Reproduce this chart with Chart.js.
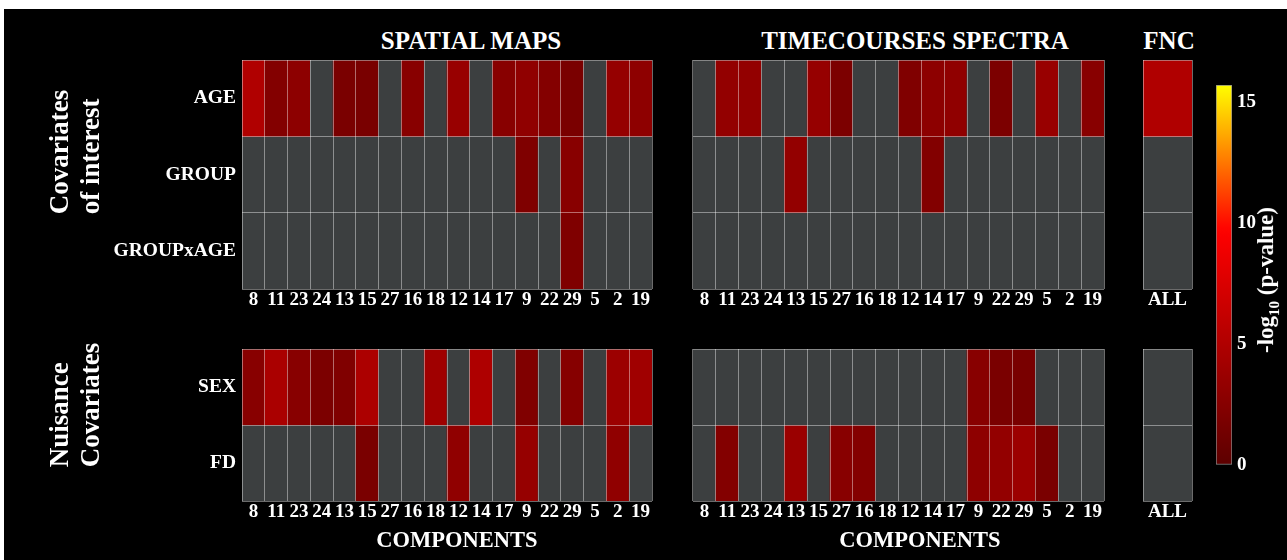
<!DOCTYPE html>
<html><head><meta charset="utf-8">
<script src="https://cdn.jsdelivr.net/npm/chart.js@4"></script>
<style>
html,body{margin:0;padding:0;background:#fff;width:1287px;height:560px;overflow:hidden}
#bg{position:absolute;left:4px;top:9px;width:1283px;height:551px;background:#000}
canvas{position:absolute}
.t{position:absolute;color:#fff;font-family:"Liberation Serif","Times New Roman",serif;font-weight:bold;white-space:nowrap;line-height:1}
.c{transform:translate(-50%,-50%)}
.rot{transform:translate(-50%,-50%) rotate(-90deg);text-align:left;line-height:1.15}
</style></head><body>
<div id="bg"></div>
<canvas id="smTop"></canvas><canvas id="tcTop"></canvas><canvas id="fncTop"></canvas>
<canvas id="smBot"></canvas><canvas id="tcBot"></canvas><canvas id="fncBot"></canvas>
<canvas id="cbar"></canvas>
<div class="t c" style="left:471px;top:40px;font-size:25px">SPATIAL MAPS</div>
<div class="t c" style="left:915px;top:40px;font-size:25px">TIMECOURSES SPECTRA</div>
<div class="t c" style="left:1169px;top:40px;font-size:25px">FNC</div>
<div class="t c" style="left:457px;top:540px;font-size:22.5px">COMPONENTS</div>
<div class="t c" style="left:920px;top:540px;font-size:22.5px">COMPONENTS</div>
<div class="t rot" style="left:75px;top:152px;font-size:27px">Covariates<br>of interest</div>
<div class="t rot" style="left:75px;top:405px;font-size:27px">Nuisance<br>Covariates</div>
<div class="t rot" style="left:1268px;top:280px;font-size:23px">-log<sub style="font-size:15px">10</sub> (p-value)</div>
<script>
// ---------- data ----------
const components = ['8','11','23','24','13','15','27','16','18','12','14','17','9','22','29','5','2','19'];
const fncCategories = ['ALL'];
const interestRows = ['AGE','GROUP','GROUPxAGE'];
const nuisanceRows = ['SEX','FD'];
const colorbarTicks = [0,5,10,15];
const colorbarMax = 15.7;
// values are -log10(p); null = not significant (gray)
const smAge   = [5.0,2.3,2.9,null,1.8,1.7,null,2.6,null,3.6,null,2.6,3.1,2.4,1.8,null,3.4,3.0];
const smGroup = [null,null,null,null,null,null,null,null,null,null,null,null,2.1,null,2.6,null,null,null];
const smGxA   = [null,null,null,null,null,null,null,null,null,null,null,null,null,null,2.1,null,null,null];
const tcAge   = [null,3.3,3.3,null,null,3.45,1.9,null,null,2.15,2.9,3.1,null,1.9,null,3.55,null,2.6];
const tcGroup = [null,null,null,null,3.3,null,null,null,null,null,2.25,null,null,null,null,null,null,null];
const tcGxA   = [null,null,null,null,null,null,null,null,null,null,null,null,null,null,null,null,null,null];
const fncAge = [5.0], fncGroup = [null], fncGxA = [null];
const smSex = [2.6,4.65,2.6,1.9,2.15,4.75,null,null,4.05,null,4.9,null,2.15,null,2.5,null,3.8,4.05];
const smFD  = [null,null,null,null,null,1.8,null,null,null,3.1,null,null,3.45,null,null,null,3.1,null];
const tcSex = [null,null,null,null,null,null,null,null,null,null,null,null,2.6,1.8,1.7,null,null,null];
const tcFD  = [null,2.3,null,null,3.7,null,2.6,2.4,null,null,null,null,3.0,3.3,3.8,1.8,null,null];
const fncSex = [null], fncFD = [null];

// ---------- style ----------
const FONT = '"Liberation Serif","Times New Roman",serif';
const GRAY = '#3c3f40';
const LINE = 'rgba(255,255,255,0.42)';
function cmapRGB(v){
  const k = 9.7;
  if (v <= k) return [Math.round(92 + (255-92)*Math.max(0,v)/k), 0, 0];
  return [255, Math.round(255*Math.min(1,(v-k)/(colorbarMax-k))), 0];
}
function cmap(v){ const c = cmapRGB(v); return `rgb(${c[0]},${c[1]},${c[2]})`; }

function fixFit(w, h){
  return function(s){
    if (w !== undefined) s.width = w;
    if (h !== undefined) s.height = h;
    s.paddingTop = 0; s.paddingBottom = 0; s.paddingLeft = 0; s.paddingRight = 0;
  };
}

function heat(id, box, rowLabels, cols, rows, showY){
  const yw = showY ? 150 : 0, xh = 26, P = 2;
  const cv = document.getElementById(id);
  cv.width = box.w + yw + 2*P; cv.height = box.h + xh + 2*P;
  cv.style.left = (box.x - yw - P) + 'px'; cv.style.top = (box.y - P) + 'px';
  const datasets = rows.map((vals, r) => ({
    data: cols.map(() => [r, r+1]),
    backgroundColor: vals.map(v => v == null ? GRAY : cmap(v)),
    borderWidth: 0, grouped: false, barPercentage: 1, categoryPercentage: 1
  }));
  new Chart(cv, {
    type: 'bar',
    data: { labels: cols, datasets },
    options: {
      responsive: false, animation: false, events: [],
      layout: { padding: P },
      plugins: { legend: {display:false}, tooltip: {enabled:false} },
      scales: {
        x: {
          type: 'category', offset: true,
          grid: { offset: true, color: LINE, lineWidth: 1, drawTicks: false, z: 1 },
          border: { display: false },
          ticks: { color: '#fff', font: {family: FONT, size: 19, weight: 'bold'}, padding: 0, autoSkip: false, maxRotation: 0 },
          afterFit: fixFit(undefined, xh)
        },
        y: {
          type: 'linear', min: 0, max: rows.length, reverse: true,
          afterBuildTicks: s => { const t = []; for (let v = 0; v <= rows.length; v += 0.5) t.push({value: v}); s.ticks = t; },
          grid: { color: c => Number.isInteger(c.tick.value) ? LINE : 'rgba(0,0,0,0)', lineWidth: 1, drawTicks: false, z: 1 },
          border: { display: false },
          ticks: { display: showY, color: '#fff', font: {family: FONT, size: 19.5, weight: 'bold'}, padding: 6,
                   callback: v => Number.isInteger(v) ? '' : rowLabels[Math.floor(v)] },
          afterFit: fixFit(yw, undefined)
        }
      }
    }
  });
}

heat('smTop',  {x:242, y:60,  w:410, h:229}, interestRows, components, [smAge, smGroup, smGxA], true);
heat('tcTop',  {x:693, y:60,  w:411, h:229}, interestRows, components, [tcAge, tcGroup, tcGxA], false);
heat('fncTop', {x:1143,y:60,  w:49,  h:229}, interestRows, fncCategories, [fncAge, fncGroup, fncGxA], false);
heat('smBot',  {x:242, y:349, w:410, h:152}, nuisanceRows, components, [smSex, smFD], true);
heat('tcBot',  {x:693, y:349, w:411, h:152}, nuisanceRows, components, [tcSex, tcFD], false);
heat('fncBot', {x:1143,y:349, w:49,  h:152}, nuisanceRows, fncCategories, [fncSex, fncFD], false);

// ---------- colorbar ----------
(function(){
  const box = {x:1216, y:85, w:16, h:380}, yw = 40, P = 2, PB = 16;
  const cv = document.getElementById('cbar');
  cv.width = box.w + yw + 2*P; cv.height = box.h + P + PB;
  cv.style.left = (box.x - P) + 'px'; cv.style.top = (box.y - P) + 'px';
  const g = cv.getContext('2d').createLinearGradient(0, P + box.h, 0, P);
  for (let i = 0; i <= 40; i++) g.addColorStop(i/40, cmap(colorbarMax * i / 40));
  new Chart(cv, {
    type: 'bar',
    data: { labels: [''], datasets: [{
      data: [[0, colorbarMax]],
      barPercentage: 1, categoryPercentage: 1,
      borderWidth: 1, borderColor: '#8a8a8a', borderSkipped: false,
      backgroundColor: g
    }]},
    options: {
      responsive: false, animation: false, events: [],
      layout: { padding: {left: P, right: P, top: P, bottom: PB} },
      plugins: { legend: {display:false}, tooltip: {enabled:false} },
      scales: {
        x: { display: false, offset: true },
        y: {
          type: 'linear', position: 'right', min: 0, max: colorbarMax,
          afterBuildTicks: s => { s.ticks = colorbarTicks.map(v => ({value: v})); },
          grid: { drawOnChartArea: false, drawTicks: false },
          border: { display: false },
          ticks: { color: '#fff', font: {family: FONT, size: 19, weight: 'bold'}, padding: 5 },
          afterFit: fixFit(yw, undefined)
        }
      }
    }
  });
})();
</script>
</body></html>
